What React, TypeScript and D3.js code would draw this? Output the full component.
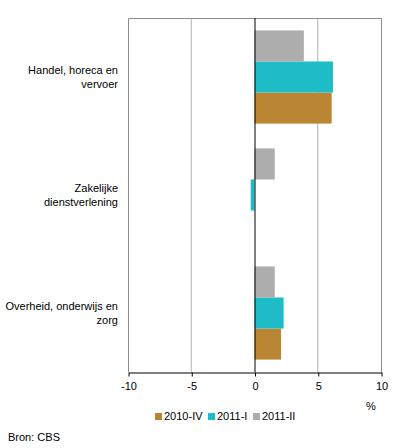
import { useEffect, useRef } from 'react';
import * as d3 from 'd3';

const categories = [
  ['Handel, horeca en', 'vervoer'],
  ['Zakelijke', 'dienstverlening'],
  ['Overheid, onderwijs en', 'zorg'],
];
const seriesNames = ['2010-IV', '2011-I', '2011-II'];
const seriesColors = ['#BA8633', '#1EBCC6', '#ADADAD'];
const values2010IV = [6.1, 0, 2.1];
const values2011I = [6.2, -0.3, 2.3];
const values2011II = [3.9, 1.6, 1.6];
const xTicks = [-10, -5, 0, 5, 10];

export default function App() {
  const svgRef = useRef<SVGSVGElement>(null);

  useEffect(() => {
    if (!svgRef.current) return;
    const svg = d3.select(svgRef.current);
    svg.selectAll('*').remove();

    const left = 128, right = 381, top = 18, bottom = 372;
    const font = '"Liberation Sans", Arial, sans-serif';

    const x = d3.scaleLinear().domain([-10, 10]).range([left, right]);
    const y = d3.scaleBand<number>()
      .domain(categories.map((_, i) => i))
      .range([top, bottom]);
    // bars drawn top to bottom: 2011-II, 2011-I, 2010-IV
    const inner = d3.scaleBand<number>()
      .domain([2, 1, 0])
      .range([0, y.bandwidth()])
      .paddingOuter(0.4)
      .paddingInner(0);

    const series = [values2010IV, values2011I, values2011II];

    // gridlines
    svg.append('g')
      .selectAll('line')
      .data([-5, 5])
      .join('line')
      .attr('x1', d => x(d)).attr('x2', d => x(d))
      .attr('y1', top).attr('y2', bottom)
      .attr('stroke', '#B3B3B3')
      .attr('stroke-width', 1);

    // frame
    svg.append('path')
      .attr('d', `M${left + 0.5},${bottom} V${top + 0.5} H${right + 0.5} V${bottom}`)
      .attr('fill', 'none')
      .attr('stroke', '#8C8C8C')
      .attr('stroke-width', 1);

    // bars
    series.forEach((vals, s) => {
      svg.append('g')
        .selectAll('rect')
        .data(vals)
        .join('rect')
        .attr('x', d => x(Math.min(0, d)))
        .attr('width', d => Math.abs(x(d) - x(0)))
        .attr('y', (_, i) => (y(i) ?? 0) + (inner(s) ?? 0))
        .attr('height', inner.bandwidth())
        .attr('fill', seriesColors[s]);
    });

    // zero line
    svg.append('line')
      .attr('x1', x(0) + 0.5).attr('x2', x(0) + 0.5)
      .attr('y1', top).attr('y2', bottom)
      .attr('stroke', '#000')
      .attr('stroke-width', 1);

    // x axis
    const axis = svg.append('g')
      .attr('transform', `translate(0.5,${bottom + 0.5})`)
      .call(d3.axisBottom(x).tickValues(xTicks).tickSize(4).tickSizeOuter(0).tickPadding(6).tickFormat(d => String(d)));
    axis.select('.domain').attr('stroke', '#000');
    axis.selectAll('.tick line').attr('stroke', '#000');
    axis.selectAll('text')
      .attr('font-family', font)
      .attr('font-size', 11)
      .attr('fill', '#000');

    svg.append('text')
      .attr('x', 371).attr('y', 410)
      .attr('text-anchor', 'middle')
      .attr('font-family', font).attr('font-size', 11)
      .text('%');

    // category labels
    categories.forEach((lines, i) => {
      const cy = (y(i) ?? 0) + y.bandwidth() / 2;
      svg.append('text')
        .attr('text-anchor', 'end')
        .attr('font-family', font).attr('font-size', 11)
        .selectAll('tspan')
        .data(lines)
        .join('tspan')
        .attr('x', 118)
        .attr('y', (_, j) => cy - 3 + j * 14)
        .text(d => d);
    });

    // legend
    const legendX = [155, 208, 253];
    const lg = svg.append('g');
    seriesNames.forEach((name, s) => {
      lg.append('rect')
        .attr('x', legendX[s]).attr('y', 413)
        .attr('width', 7).attr('height', 7)
        .attr('fill', seriesColors[s]);
      lg.append('text')
        .attr('x', legendX[s] + 9).attr('y', 420)
        .attr('font-family', font).attr('font-size', 11)
        .text(name);
    });

    svg.append('text')
      .attr('x', 8).attr('y', 441)
      .attr('font-family', font).attr('font-size', 11)
      .text('Bron: CBS');
  }, []);

  return (
    <svg
      ref={svgRef}
      width={396}
      height={448}
      style={{ position: 'absolute', left: 0, top: 0, background: '#fff' }}
    />
  );
}
